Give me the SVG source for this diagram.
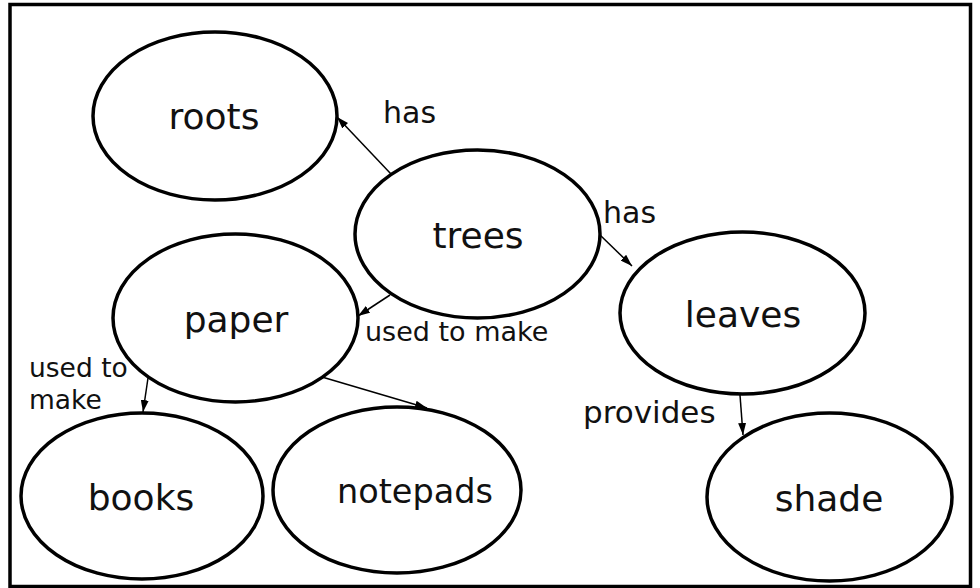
<svg xmlns="http://www.w3.org/2000/svg" width="980" height="588" viewBox="0 0 980 588">
  <style>
    .node ellipse { fill: #ffffff; stroke: #000000; stroke-width: 3.5; }
    .node text { font-family: "DejaVu Sans", "Noto Sans", sans-serif; font-size: 36px; fill: #111111; text-anchor: middle; }
    .edge { stroke: #000000; stroke-width: 1.5; fill: none; marker-end: url(#arrow); }
    .label { font-family: "DejaVu Sans", "Noto Sans", sans-serif; font-size: 28px; fill: #111111; }
  </style>
  <defs>
    <marker id="arrow" viewBox="0 0 12 8" refX="12" refY="4" markerWidth="12" markerHeight="8" markerUnits="userSpaceOnUse" orient="auto">
      <path d="M0,0 L12,4 L0,8 z" fill="#000000"/>
    </marker>
  </defs>

  <rect x="0" y="0" width="980" height="588" fill="#ffffff"/>
  <!-- outer frame -->
  <rect x="10" y="4.5" width="960.5" height="582" fill="none" stroke="#000000" stroke-width="3.5"/>

  <!-- connectors -->
  <g id="connectors">
    <line class="edge" x1="391" y1="174" x2="337" y2="117"/>
    <line class="edge" x1="600" y1="235" x2="632" y2="266"/>
    <line class="edge" x1="390" y1="295" x2="358" y2="316"/>
    <line class="edge" x1="148" y1="378" x2="143" y2="412"/>
    <line class="edge" x1="322" y1="377" x2="427" y2="408"/>
    <line class="edge" x1="740" y1="395" x2="743" y2="435"/>
  </g>

  <!-- connector labels -->
  <g id="labels">
    <text class="label" x="383" y="123" style="font-size:30px">has</text>
    <text class="label" x="603" y="223" style="font-size:30px">has</text>
    <text class="label" x="365" y="341" style="font-size:27px">used to make</text>
    <text class="label" x="29" y="377" style="font-size:26.5px">used to</text>
    <text class="label" x="29" y="409" style="font-size:26.5px">make</text>
    <text class="label" x="583" y="423" style="font-size:31px">provides</text>
  </g>

  <!-- nodes -->
  <g id="roots" class="node">
    <ellipse cx="215" cy="116" rx="122" ry="84"/>
    <text x="214" y="129">roots</text>
  </g>
  <g id="trees" class="node">
    <ellipse cx="477.5" cy="234" rx="122.5" ry="84"/>
    <text x="478" y="248">trees</text>
  </g>
  <g id="paper" class="node">
    <ellipse cx="235.5" cy="318" rx="122.5" ry="84"/>
    <text x="236" y="332">paper</text>
  </g>
  <g id="leaves" class="node">
    <ellipse cx="742.5" cy="313" rx="122.5" ry="81"/>
    <text x="743" y="327">leaves</text>
  </g>
  <g id="books" class="node">
    <ellipse cx="142" cy="496" rx="121" ry="83"/>
    <text x="141" y="510">books</text>
  </g>
  <g id="notepads" class="node">
    <ellipse cx="397" cy="490" rx="124" ry="83"/>
    <text x="415" y="503" style="font-size:33.5px">notepads</text>
  </g>
  <g id="shade" class="node">
    <ellipse cx="829.5" cy="497" rx="122.5" ry="84"/>
    <text x="829" y="511">shade</text>
  </g>
</svg>
